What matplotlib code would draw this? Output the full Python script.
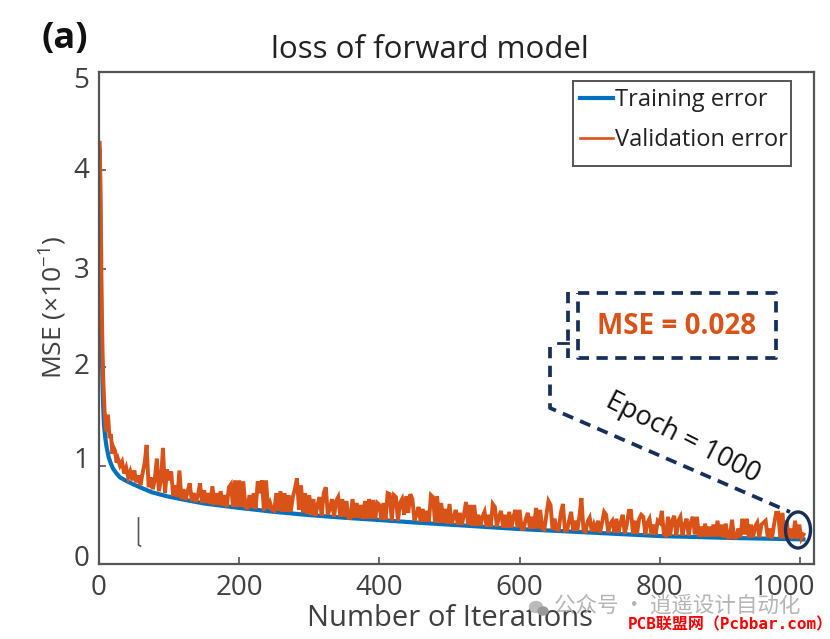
# -*- coding: utf-8 -*-
import numpy as np
import matplotlib
matplotlib.use('Agg')
import matplotlib.pyplot as plt
from matplotlib.patches import Ellipse, Rectangle
from matplotlib.transforms import ScaledTranslation

plt.rcParams['font.family'] = ['Open Sans', 'DejaVu Sans']
plt.rcParams['mathtext.fontset'] = 'custom'
plt.rcParams['mathtext.rm'] = 'Open Sans'
plt.rcParams['mathtext.default'] = 'regular'

# training curve
train_x = [1, 2, 3, 4, 5, 6, 7, 9, 11, 14, 17, 20, 25, 30, 40, 49, 60, 75, 96, 120, 150, 200, 250, 300, 350, 400, 450, 500, 600, 700, 800, 900, 1005]
train_y = [4.2, 3.4, 2.7, 2.2, 1.85, 1.6, 1.42, 1.28, 1.18, 1.08, 1.02, 0.97, 0.92, 0.88, 0.84, 0.81, 0.775, 0.73, 0.69, 0.655, 0.615, 0.57, 0.53, 0.497, 0.47, 0.447, 0.422, 0.40, 0.355, 0.32, 0.284, 0.265, 0.25]

# validation curve, first steep part
val_early_x = [1, 2, 3, 4, 5, 6, 8, 10, 11, 13, 15, 17, 19, 21, 23, 25, 27, 30]
val_early_y = [4.28, 3.9, 3.2, 2.6, 2.2, 1.9, 1.55, 1.35, 1.5, 1.5, 1.28, 1.32, 1.12, 1.18, 1.15, 1.03, 1.07, 1.0]

# validation curve, noisy part, one list per stretch of iterations
val_030 = [1.0, 1.04, .92, .98, .88, .94, .85, .95, .83, .90, .80, .92, 1.02, 1.21, .78, .88, .76, .86, 1.07, .74, .85, 1.18, .72, .96]
val_100 = [.85, .94, .69, .80, .68, .95, .66, .76, .65, .74, .82, .64, .72, .63, .70, .82, .62, .75, .62, .72, .61, .79, .60, .72, .60, .74, .59, .70, .58, .78, .81, .58, .85, .58]
val_200 = [.85, .58, .84, .58, .57, .70, .57, .72, .56, .84, .72, .85, .54, .85, .56, .62, .55, .54, .72, .54, .74, .53, .72, .53, .70, .53, .68, .76, .87, .55, .80, .52, .72, .51]
val_300 = [.70, .50, .66, .49, .60, .68, .49, .72, .78, .50, .56, .66, .48, .64, .68, .48, .66, .48, .64, .47, .47, .66, .47, .62, .47, .60, .46, .64, .46, .66, .46, .65, .46, .62]
val_400 = [.60, .45, .62, .45, .72, .71, .44, .70, .68, .44, .62, .66, .50, .69, .52, .71, .66, .44, .50, .58, .43, .56, .43, .54, .43, .70, .68, .42, .69, .42, .62, .42, .56, .41]
val_500 = [.61, .41, .47, .55, .40, .52, .40, .50, .63, .40, .60, .39, .60, .39, .50, .39, .48, .53, .38, .50, .38, .61, .58, .38, .48, .54, .37, .50, .37, .53, .37, .48, .55, .37]
val_600 = [.55, .36, .36, .46, .52, .36, .48, .36, .57, .36, .55, .36, .35, .50, .64, .60, .35, .46, .35, .35, .52, .61, .34, .34, .44, .53, .34, .44, .34, .48, .67, .34, .33, .43]
val_700 = [.47, .33, .40, .33, .44, .32, .42, .53, .50, .32, .41, .44, .32, .46, .32, .42, .50, .31, .40, .54, .54, .31, .44, .31, .46, .50, .48, .30, .42, .46, .30, .40, .30, .44]
val_800 = [.42, .54, .30, .29, .48, .29, .44, .49, .29, .44, .48, .29, .40, .46, .29, .42, .48, .30, .48, .28, .38, .28, .41, .28, .38, .28, .40, .28, .44, .28, .40, .27, .41, .27]
val_900 = [.27, .45, .27, .27, .36, .27, .46, .30, .46, .27, .40, .27, .38, .42, .27, .40, .42, .44, .27, .36, .26, .40, .52, .52, .26, .52, .26, .44, .26, .36, .26, .44, .26, .40, .26, .30]

y_ticks = [0, 1, 2, 3, 4, 5]
x_ticks = [0, 200, 400, 600, 800, 1000]

# spread each stretch over its iterations
val_x = list(val_early_x)
val_y = list(val_early_y)
stretches = [(30, 100, val_030), (100, 200, val_100), (200, 300, val_200), (300, 400, val_300), (400, 500, val_400),
             (500, 600, val_500), (600, 700, val_600), (700, 800, val_700), (800, 900, val_800), (900, 1005, val_900)]
for start, stop, vals in stretches:
    last = stop == 1005
    val_x += list(np.linspace(start, stop, len(vals), endpoint=last))
    val_y += vals

DARK = '#404040'
NAVY = '#17305a'
ORANGE = '#D95319'
BLUE = '#0072BD'

fig = plt.figure(figsize=(8.30, 6.39), dpi=100)
ax = fig.add_axes([99 / 830, 1 - 564 / 639, (814 - 99) / 830, (564 - 72) / 639])

ax.plot(train_x, train_y, color=BLUE, linewidth=3.0, label='Training error', solid_joinstyle='round')
ax.plot(val_x, val_y, color=ORANGE, linewidth=2.8, label='Validation error', solid_joinstyle='miter')

ax.set_xlim(0, 1020)
ax.set_ylim(0, 5)
ax.set_xticks(x_ticks)
ax.set_yticks(y_ticks)
ax.tick_params(direction='in', length=5, width=1.2, color='#555555', labelsize=20, labelcolor=DARK, pad=7)
for s in ax.spines.values():
    s.set_color('#555555')
    s.set_linewidth(1.6)

# the tick labels sit a little off their ticks in the reference
def shift_label(label, dx_px, dy_px):
    off = ScaledTranslation(dx_px / 100, dy_px / 100, fig.dpi_scale_trans)
    label.set_transform(label.get_transform() + off)

shift_label(ax.get_xticklabels()[-1], -17, 0)
for label, dy in zip(ax.get_yticklabels(), [8, 8, 4, 1, 3, -6]):
    shift_label(label, 0, dy)

ax.set_xlabel('Number of Iterations', fontsize=21, color=DARK)
ax.xaxis.set_label_coords((450 - 99) / 715, -(604 - 564) / 492)
ax.set_ylabel('MSE (×10$^{-1}$)', fontsize=19, color=DARK)
ax.yaxis.set_label_coords(-(99 - 69) / 715, (564 - 307) / 492)
ax.set_title('loss of forward model', fontsize=22.5, color='#222222', pad=10, x=(430 - 99) / 715)

leg = ax.legend(loc='upper left', bbox_to_anchor=((573 - 99) / 715, 1 - (81 - 72) / 492), fontsize=17,
                frameon=False, borderaxespad=0,
                handlelength=1.4, handletextpad=0.08, borderpad=0.3, labelspacing=0.67, labelcolor='#222222')
leg.get_lines()[1].set_linewidth(1.9)

# overlay in pixel coordinates for the drawn annotations
ov = fig.add_axes([0, 0, 1, 1], facecolor='none')
ov.set_xlim(0, 830)
ov.set_ylim(639, 0)
ov.axis('off')

# legend frame, taller below the text than the legend's own padding allows
ov.add_patch(Rectangle((573, 81), 218, 85, fill=False, edgecolor='#555555', linewidth=1.4))

dash = dict(color=NAVY, linewidth=2.7, linestyle=(0, (3.0, 2.0)))
ov.plot([578, 776, 776, 578, 578], [293, 293, 358, 358, 293], **dash)
ov.plot([568, 568], [292, 358], **dash)
ov.plot([558, 568], [343, 343], color=NAVY, linewidth=2.0)
ov.plot([550, 550, 790], [347, 408, 512], **dash)
ov.add_patch(Ellipse((798, 530), 25, 36, fill=False, edgecolor=NAVY, linewidth=2.4))
ov.plot([138.5, 138.5, 140.5], [518, 545, 546], color='#555555', linewidth=1.2)

ov.text(677, 327, 'MSE = 0.028', color=ORANGE, fontsize=20, fontweight='bold', ha='center', va='center')
ov.text(683, 438, 'Epoch = 1000', color='#111111', fontsize=19.5, rotation=-27, ha='center', va='center')
ov.text(41, 39, '(a)', color='#111111', fontsize=26, fontweight='bold', ha='left', va='center')

# watermarks
ov.add_patch(Ellipse((536, 607), 13, 11, color='#bbbbbb'))
ov.add_patch(Ellipse((543, 611), 10, 8, color='#999999'))
ov.text(554, 606, '公众号 · 逍遥设计自动化', color='#b5b5b5', fontsize=15.5, ha='left', va='center',
        family=['Noto Sans CJK SC', 'DejaVu Sans'])
ov.text(628, 625, 'PCB联盟网（Pcbbar.com）', color='#ff0000', fontsize=11.5, fontweight='bold', ha='left', va='center',
        family=['DejaVu Sans Mono', 'Noto Sans CJK SC'])

fig.savefig('out.png', dpi=100)
